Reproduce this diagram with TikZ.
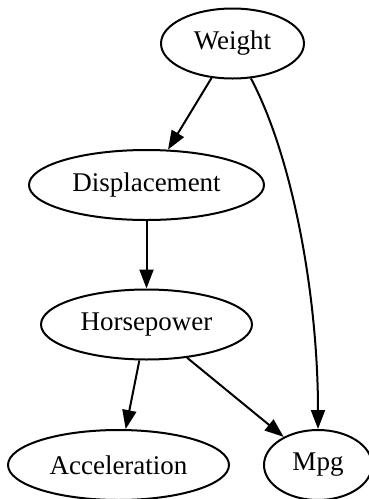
\documentclass[tikz,border=0pt]{standalone}
\usepackage{fontspec}
\setmainfont{Liberation Serif}
\usepackage{tikz}
\usetikzlibrary{shapes,arrows.meta,positioning}

\begin{document}
\begin{tikzpicture}[
      x=0.5pt, y=-0.5pt,
      var/.style={draw, ellipse, line width=1pt, inner sep=0pt, minimum height=35pt, font=\fontsize{13.5}{16}\selectfont},
      edge/.style={line width=1pt, -{Triangle[length=9.5pt, width=7pt]}}
    ]
    \useasboundingbox (0,0) rectangle (369,499);

    \node[var, minimum width=71.5pt] (weight) at (232.5,43.5) {Weight};
    \node[var, minimum width=117.5pt] (displacement) at (146.5,185) {Displacement};
    \node[var, minimum width=105.5pt] (horsepower) at (146.5,324.5) {Horsepower};
    \node[var, minimum width=110.5pt] (acceleration) at (118.5,465) {Acceleration};
    \node[var, minimum width=54pt] (mpg) at (318,465) {Mpg};

    \draw[edge] (weight) -- (displacement);
    \draw[edge] (weight) .. controls (294,160) and (318,300) .. (mpg);
    \draw[edge] (displacement) -- (horsepower);
    \draw[edge] (horsepower) -- (acceleration);
    \draw[edge] (horsepower) -- (mpg);
  \end{tikzpicture}
\end{document}
